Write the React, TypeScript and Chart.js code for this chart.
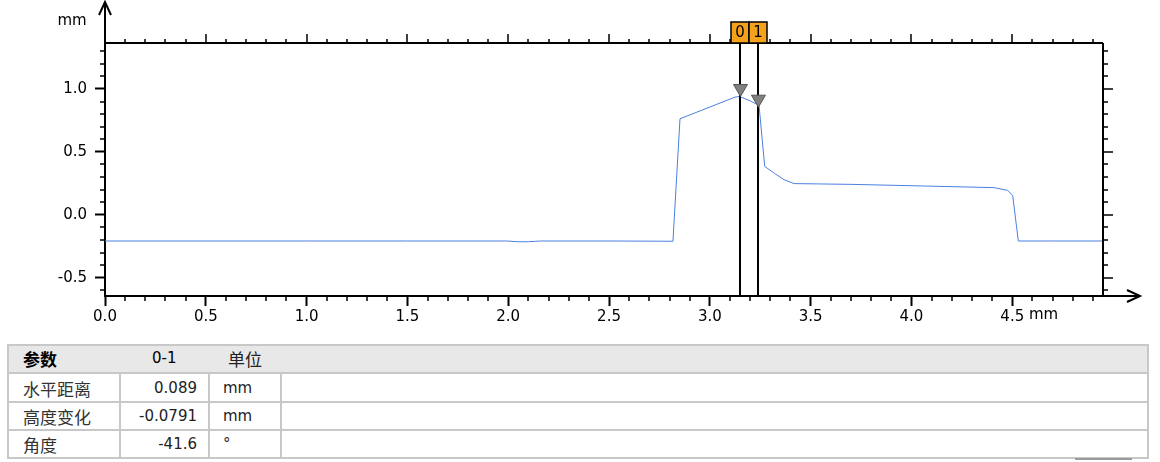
import { useEffect, useRef } from "react";
import { Chart, registerables } from "chart.js";

Chart.register(...registerables);

// ---- data ----
const profileX = [0, 0.5, 1.0, 1.5, 1.99, 2.05, 2.1, 2.16, 2.5, 2.817, 2.852, 3.125, 3.148, 3.2, 3.244, 3.272, 3.32, 3.368, 3.418, 3.7, 4.06, 4.41, 4.477, 4.502, 4.53, 4.7, 4.95];
const profileY = [-0.208, -0.208, -0.208, -0.208, -0.208, -0.214, -0.214, -0.208, -0.208, -0.21, 0.763, 0.935, 0.94, 0.905, 0.869, 0.385, 0.33, 0.279, 0.248, 0.242, 0.229, 0.216, 0.194, 0.155, -0.208, -0.208, -0.208];

const xTicks = [0, 0.5, 1.0, 1.5, 2.0, 2.5, 3.0, 3.5, 4.0, 4.5];
const yTicks = [-0.5, 0.0, 0.5, 1.0];
const xMin = 0;
const xMax = 4.95;
const yMin = -0.645;
const yMax = 1.365;
const unitLabel = "mm";

const cursorLabels = ["0", "1"];
const cursorX = [3.152, 3.241];
const cursorY = [0.94, 0.855];

const tableHeader = ["参数", "0-1", "单位"];
const rowNames = ["水平距离", "高度变化", "角度"];
const rowValues = ["0.089", "-0.0791", "-41.6"];
const rowUnits = ["mm", "mm", "°"];

const FONT = "'DejaVu Sans', Verdana, sans-serif";
const CJK = "'Noto Sans CJK SC', 'DejaVu Sans', sans-serif";

const decorPlugin = {
  id: "decor",
  afterDraw(chart: any) {
    const ctx = chart.ctx as CanvasRenderingContext2D;
    const xs = chart.scales.x;
    const ys = chart.scales.y;
    const { left, right, top, bottom } = chart.chartArea;
    ctx.save();
    ctx.strokeStyle = "#000";
    ctx.fillStyle = "#000";
    ctx.lineWidth = 2;
    ctx.lineCap = "butt";

    // frame: top and right
    ctx.beginPath();
    ctx.moveTo(left, top);
    ctx.lineTo(right, top);
    ctx.moveTo(right, top);
    ctx.lineTo(right, bottom);
    ctx.stroke();

    // axis extensions with arrows
    ctx.beginPath();
    ctx.moveTo(left, top);
    ctx.lineTo(left, 3);
    ctx.moveTo(left - 6, 15);
    ctx.lineTo(left, 2);
    ctx.lineTo(left + 6, 15);
    ctx.moveTo(right, bottom);
    ctx.lineTo(1140, bottom);
    ctx.moveTo(1127, bottom - 6);
    ctx.lineTo(1140, bottom);
    ctx.lineTo(1127, bottom + 6);
    ctx.stroke();

    // minor ticks and opposite-side ticks
    ctx.lineWidth = 1.5;
    ctx.beginPath();
    for (let k = 0; k <= 49; k++) {
      const v = k / 10;
      const px = Math.round(xs.getPixelForValue(v));
      const major = k % 5 === 0;
      if (!major) {
        ctx.moveTo(px, bottom);
        ctx.lineTo(px, bottom + 5);
      }
      ctx.moveTo(px, top);
      ctx.lineTo(px, top - (major ? 9 : 4));
    }
    for (let k = -6; k <= 13; k++) {
      const v = k / 10;
      const py = Math.round(ys.getPixelForValue(v));
      const major = k % 5 === 0;
      if (!major) {
        ctx.moveTo(left, py);
        ctx.lineTo(left - 5, py);
      }
      ctx.moveTo(right, py);
      ctx.lineTo(right + (major ? 10 : 5), py);
    }
    ctx.stroke();

    // unit labels
    ctx.font = "15px " + FONT;
    ctx.textBaseline = "middle";
    ctx.textAlign = "center";
    ctx.fillText(unitLabel, 72, 21);
    const lastTick = xTicks[xTicks.length - 1];
    const lastPx = xs.getPixelForValue(lastTick);
    const w = ctx.measureText(lastTick.toFixed(1)).width;
    ctx.textAlign = "left";
    ctx.textBaseline = "top";
    const lblY = bottom + 10 + 2;
    ctx.fillText(" " + unitLabel, lastPx + w / 2, lblY);

    // cursors
    cursorX.forEach((cx, i) => {
      const px = Math.round(xs.getPixelForValue(cx));
      ctx.strokeStyle = "#000";
      ctx.lineWidth = 2;
      ctx.beginPath();
      ctx.moveTo(px, top);
      ctx.lineTo(px, bottom);
      ctx.stroke();
      // label box
      ctx.fillStyle = "#F4A21C";
      ctx.fillRect(px - 9, 22, 18, 21);
      ctx.lineWidth = 1.5;
      ctx.strokeRect(px - 9, 22, 18, 21);
      ctx.fillStyle = "#000";
      ctx.font = "15px " + FONT;
      ctx.textAlign = "center";
      ctx.textBaseline = "middle";
      ctx.fillText(cursorLabels[i], px, 33);
    });
    cursorX.forEach((cx, i) => {
      const px = xs.getPixelForValue(cx);
      const py = ys.getPixelForValue(cursorY[i]);
      ctx.beginPath();
      ctx.moveTo(px - 7, py - 12);
      ctx.lineTo(px + 7, py - 12);
      ctx.lineTo(px, py);
      ctx.closePath();
      ctx.fillStyle = "#808080";
      ctx.fill();
      ctx.strokeStyle = "#555";
      ctx.lineWidth = 1;
      ctx.stroke();
    });
    ctx.restore();
  },
};

function ChartCanvas() {
  const ref = useRef<HTMLCanvasElement | null>(null);
  useEffect(() => {
    if (!ref.current) return;
    const points = profileX.map((x, i) => ({ x, y: profileY[i] }));
    const chart = new Chart(ref.current, {
      type: "line",
      data: {
        datasets: [
          {
            data: points,
            borderColor: "#4a80e0",
            borderWidth: 1,
            pointRadius: 0,
            tension: 0,
            fill: false,
          },
        ],
      },
      options: {
        animation: false,
        responsive: false,
        devicePixelRatio: 1,
        layout: { padding: { top: 43, right: 57, left: 0, bottom: 0 } },
        plugins: { legend: { display: false }, tooltip: { enabled: false } },
        events: [],
        scales: {
          x: {
            type: "linear",
            position: "bottom",
            min: xMin,
            max: xMax,
            afterBuildTicks: (axis: any) => {
              axis.ticks = xTicks.map((v) => ({ value: v }));
            },
            afterFit: (axis: any) => {
              axis.height = 44;
            },
            grid: {
              drawOnChartArea: false,
              drawTicks: true,
              tickLength: 10,
              tickWidth: 2,
              tickColor: "#000",
            },
            border: { display: true, color: "#000", width: 2 },
            ticks: {
              color: "#000",
              font: { family: FONT, size: 15 },
              padding: 2,
              maxRotation: 0,
              autoSkip: false,
              callback: (v: any) => Number(v).toFixed(1),
            },
          },
          y: {
            type: "linear",
            position: "left",
            min: yMin,
            max: yMax,
            afterBuildTicks: (axis: any) => {
              axis.ticks = yTicks.map((v) => ({ value: v }));
            },
            afterFit: (axis: any) => {
              axis.width = 105;
            },
            grid: {
              drawOnChartArea: false,
              drawTicks: true,
              tickLength: 10,
              tickWidth: 2,
              tickColor: "#000",
            },
            border: { display: true, color: "#000", width: 2 },
            ticks: {
              color: "#000",
              font: { family: FONT, size: 15 },
              padding: 8,
              autoSkip: false,
              callback: (v: any) => Number(v).toFixed(1),
            },
          },
        },
      },
      plugins: [decorPlugin],
    });
    return () => chart.destroy();
  }, []);
  return (
    <canvas
      ref={ref}
      width={1160}
      height={340}
      style={{ position: "absolute", left: 0, top: 0, width: 1160, height: 340 }}
    />
  );
}

const LINE = "#c8c8c8";

function Table() {
  const rowTops = [373, 402, 430];
  const rowCenters = [388, 416, 444];
  const abs = (s: any) => ({ position: "absolute" as const, ...s });
  return (
    <>
      <div style={abs({ left: 7, top: 344, width: 1142, height: 115, border: `2px solid ${LINE}`, boxSizing: "border-box", background: "#fff" })} />
      <div style={abs({ left: 9, top: 346, width: 1138, height: 27, background: "#e8e8e8" })} />
      {rowTops.map((t, i) => (
        <div key={"h" + i} style={abs({ left: 7, top: t - 1, width: 1142, height: 2, background: LINE })} />
      ))}
      {[120, 209, 281].map((x, i) => (
        <div key={"v" + i} style={abs({ left: x - 1, top: 373, width: 2, height: 86, background: LINE })} />
      ))}
      <div style={abs({ left: 23, top: 358, transform: "translateY(-50%)", font: `bold 17px ${CJK}`, color: "#000", whiteSpace: "nowrap" })}>{tableHeader[0]}</div>
      <div style={abs({ left: 152, top: 358, transform: "translateY(-50%)", font: `15px ${FONT}`, color: "#000", whiteSpace: "nowrap" })}>{tableHeader[1]}</div>
      <div style={abs({ left: 228, top: 358, transform: "translateY(-50%)", font: `17px ${CJK}`, color: "#222", whiteSpace: "nowrap" })}>{tableHeader[2]}</div>
      {rowNames.map((n, i) => (
        <div key={"n" + i}>
          <div style={abs({ left: 23, top: rowCenters[i], transform: "translateY(-50%)", font: `17px ${CJK}`, color: "#333", whiteSpace: "nowrap" })}>{n}</div>
          <div style={abs({ right: 1160 - 197, top: rowCenters[i], transform: "translateY(-50%)", font: `15px ${FONT}`, color: "#222", whiteSpace: "nowrap", textAlign: "right" })}>{rowValues[i]}</div>
          <div style={abs({ left: 223, top: rowCenters[i], transform: "translateY(-50%)", font: `15px ${FONT}`, color: "#222", whiteSpace: "nowrap" })}>{rowUnits[i]}</div>
        </div>
      ))}
      <div style={abs({ left: 1075, top: 458, width: 57, height: 2, background: "#9a9a9a" })} />
    </>
  );
}

export default function App() {
  return (
    <div style={{ position: "absolute", left: 0, top: 0, width: 1160, height: 462, background: "#fff", overflow: "hidden" }}>
      <ChartCanvas />
      <Table />
    </div>
  );
}
